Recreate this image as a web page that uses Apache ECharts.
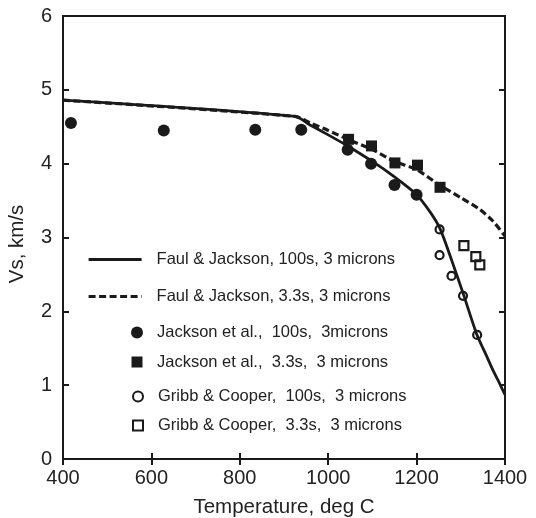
<!DOCTYPE html>
<html>
<head>
<meta charset="utf-8">
<script src="https://cdn.jsdelivr.net/npm/echarts@6/dist/echarts.min.js"></script>
<style>
html,body{margin:0;padding:0;background:#fff;}
#chart{width:536px;height:518px;}
</style>
</head>
<body>
<div id="chart"></div>
<script>
// ---- Data ----
const xTicks = [400, 600, 800, 1000, 1200, 1400];
const yTicks = [0, 1, 2, 3, 4, 5, 6];

const seriesNames = [
  'Faul & Jackson, 100s, 3 microns',
  'Faul & Jackson, 3.3s, 3 microns',
  'Jackson et al.,  100s,  3microns',
  'Jackson et al.,  3.3s,  3 microns',
  'Gribb & Cooper,  100s,  3 microns',
  'Gribb & Cooper,  3.3s,  3 microns'
];

// Faul & Jackson model curves [T, Vs]
const faul100 = [[400,4.86],[925,4.64],[960,4.52],[1000,4.39],[1044,4.24],[1100,4.03],[1150,3.82],
  [1200,3.58],[1230,3.35],[1253,3.12],[1280,2.68],[1306,2.23],[1336,1.69],[1358,1.40],
  [1373,1.20],[1388,1.02],[1400,0.87]];
const faul33 = [[400,4.86],[925,4.64],[960,4.55],[1000,4.45],[1044,4.33],[1100,4.19],[1150,4.03],
  [1200,3.92],[1252,3.71],[1300,3.54],[1343,3.38],[1373,3.22],[1400,3.02]];

// Experimental points
const jackson100 = [[418,4.55],[628,4.45],[835,4.46],[939,4.46],[1044,4.19],[1097,4.00],[1150,3.71],[1200,3.58]];
const jackson33 = [[1046,4.33],[1098,4.24],[1151,4.01],[1202,3.98],[1253,3.68]];
const gribb100 = [[1252,3.11],[1252,2.76],[1279,2.48],[1305,2.21],[1337,1.68]];
const gribb33 = [[1307,2.89],[1334,2.74],[1343,2.63]];

// ---- Chart ----
const FONT = 'Liberation Sans, Arial, Helvetica, sans-serif';
const INK = '#1a1a1a';
const TXT = '#222';

const chart = echarts.init(document.getElementById('chart'), null, {renderer: 'canvas'});

const tickStyle = {show: true, inside: true, length: 6, lineStyle: {color: INK, width: 2}};

function legendAt(name, left, rowY, w, h, padLeft, hideSymbol) {
  const l = {
    data: [name],
    left: left, top: rowY - h / 2,
    padding: 0, itemWidth: w, itemHeight: h,
    selectedMode: false,
    textStyle: {fontFamily: FONT, fontSize: 16.5, color: TXT, padding: [0, 0, 0, padLeft]}
  };
  if (hideSymbol) {
    l.itemStyle = {color: 'rgba(0,0,0,0)', borderColor: 'rgba(0,0,0,0)', borderWidth: 0};
    l.lineStyle = {width: 3.2};
  }
  return l;
}

const option = {
  animation: false,
  backgroundColor: '#fff',
  grid: {left: 63, right: 31, top: 16, bottom: 59, outerBoundsMode: 'none', containLabel: false,
         show: true, borderColor: INK, borderWidth: 2, backgroundColor: 'transparent'},
  legend: [
    legendAt(seriesNames[0], 87, 258, 53, 14, 10, true),
    legendAt(seriesNames[1], 87, 295, 53, 14, 10, true),
    legendAt(seriesNames[2], 131, 330, 12, 12, 9),
    legendAt(seriesNames[3], 131.5, 359, 11, 11, 9.5),
    legendAt(seriesNames[4], 132, 393, 10, 10, 10),
    legendAt(seriesNames[5], 132, 422, 10, 10, 10)
  ],
  xAxis: [
    {type: 'value', min: xTicks[0], max: xTicks[xTicks.length - 1], interval: 200, position: 'bottom',
     name: 'Temperature, deg C', nameLocation: 'middle', nameGap: 38,
     nameTextStyle: {fontFamily: FONT, fontSize: 20.5, color: TXT},
     axisLine: {show: true, lineStyle: {color: INK, width: 2}},
     axisTick: tickStyle, splitLine: {show: false},
     axisLabel: {fontFamily: FONT, fontSize: 20, color: TXT, margin: 9, formatter: v => String(v)}},
    {type: 'value', min: xTicks[0], max: xTicks[xTicks.length - 1], interval: 200, position: 'top',
     axisLine: {show: true, lineStyle: {color: INK, width: 2}},
     axisTick: tickStyle, splitLine: {show: false}, axisLabel: {show: false}}
  ],
  yAxis: [
    {type: 'value', min: yTicks[0], max: yTicks[yTicks.length - 1], interval: 1, position: 'left',
     name: 'Vs, km/s', nameLocation: 'middle', nameGap: 35,
     nameTextStyle: {fontFamily: FONT, fontSize: 20.5, color: TXT, padding: [0, 13, 0, 0]},
     axisLine: {show: true, lineStyle: {color: INK, width: 2}},
     axisTick: tickStyle, splitLine: {show: false},
     axisLabel: {fontFamily: FONT, fontSize: 20, color: TXT, margin: 11}},
    {type: 'value', min: yTicks[0], max: yTicks[yTicks.length - 1], interval: 1, position: 'right',
     axisLine: {show: true, lineStyle: {color: INK, width: 2}},
     axisTick: tickStyle, splitLine: {show: false}, axisLabel: {show: false}}
  ],
  series: [
    {name: seriesNames[0], type: 'line', data: faul100, smooth: 0.25, symbol: 'none', z: 2,
     lineStyle: {color: INK, width: 2.8}, itemStyle: {color: INK}},
    {name: seriesNames[1], type: 'line', data: faul33, smooth: 0.25, symbol: 'none', z: 2,
     lineStyle: {color: INK, width: 3.2, type: [7, 3.5]}, itemStyle: {color: INK}},
    {name: seriesNames[2], type: 'scatter', data: jackson100, symbol: 'circle', symbolSize: 12, z: 3,
     itemStyle: {color: INK, opacity: 1}},
    {name: seriesNames[3], type: 'scatter', data: jackson33, symbol: 'rect', symbolSize: 11, z: 3,
     itemStyle: {color: INK, opacity: 1}},
    {name: seriesNames[4], type: 'scatter', data: gribb100, symbol: 'circle', symbolSize: 8, z: 3,
     itemStyle: {color: 'rgba(255,255,255,0)', borderColor: INK, borderWidth: 2.2, opacity: 1}},
    {name: seriesNames[5], type: 'scatter', data: gribb33, symbol: 'rect', symbolSize: 9, z: 3,
     itemStyle: {color: 'rgba(255,255,255,0)', borderColor: INK, borderWidth: 2.2, opacity: 1}}
  ]
};
chart.setOption(option);
</script>
</body>
</html>
